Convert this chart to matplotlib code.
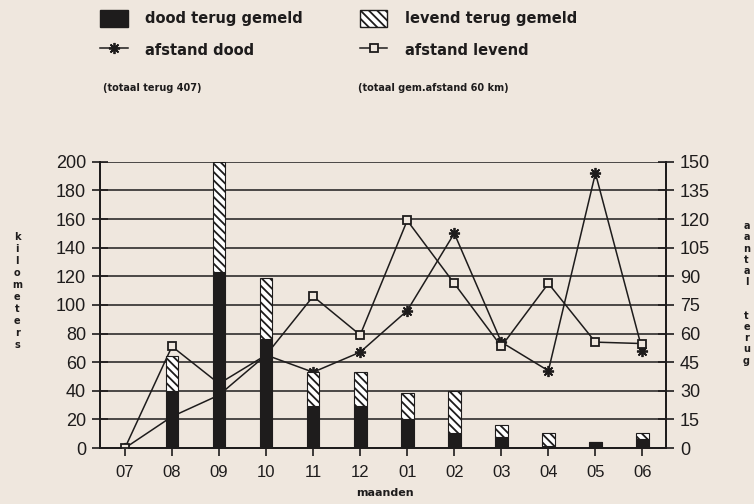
import numpy as np
import matplotlib.pyplot as plt
from matplotlib.lines import Line2D
from matplotlib.patches import Patch

# maanden
months = ['07', '08', '09', '10', '11', '12', '01', '02', '03', '04', '05', '06']
# aantal terug gemeld (rechter as)
dood_terug = [0, 30, 92, 57, 22, 22, 15, 8, 6, 1, 3, 5]
levend_terug = [0, 18, 58, 32, 18, 18, 14, 22, 6, 7, 0, 3]
# afstand in km (linker as)
afstand_dood = [0, 22, 37, 65, 53, 67, 96, 150, 74, 54, 192, 68]
afstand_levend = [0, 71, 45, 65, 106, 79, 159, 115, 71, 115, 74, 73]

left_ticks = list(range(0, 201, 20))
right_ticks = list(range(0, 151, 15))

bg = '#efe7de'
ink = '#1e1c1c'
plt.rcParams['font.family'] = ['Liberation Sans', 'DejaVu Sans']
plt.rcParams['hatch.linewidth'] = 1.3

fig = plt.figure(figsize=(7.54, 5.04), dpi=100, facecolor=bg)
ax = fig.add_axes([0.1326, 0.111, 0.7507, 0.568])
ax.set_facecolor(bg)
ax2 = ax.twinx()
ax.set_zorder(1)
ax2.set_zorder(2)
ax2.patch.set_visible(False)

x = np.arange(len(months))

# lijnen op linker as (achter de staven)
ax.plot(x, afstand_dood, color=ink, lw=1.1, marker=(8, 2, 0), ms=8, mew=1.3, zorder=3)
ax.plot(x, afstand_levend, color=ink, lw=1.1, marker='s', ms=6, mfc=bg, mec=ink, mew=1.3, zorder=3)

# gridlijnen
for t in left_ticks[1:]:
    ax.axhline(t, color=ink, lw=1.1, zorder=1)

# staven op rechter as
w = 0.27
ax2.bar(x, dood_terug, w, color=ink, edgecolor=ink, lw=0.8, zorder=4)
ax2.bar(x, levend_terug, w, bottom=dood_terug, color='white', edgecolor=ink,
        hatch='\\\\\\\\', lw=0.8, zorder=4)

ax.set_xlim(-0.53, 11.5)
ax.set_ylim(0, 200)
ax2.set_ylim(0, 150)
ax.set_yticks(left_ticks)
ax2.set_yticks(right_ticks)
ax.set_xticks(x)
ax.set_xticklabels(months)

for a in (ax, ax2):
    for s in a.spines.values():
        s.set_color(ink)
        s.set_linewidth(1.3)
    a.spines['top'].set_visible(False)
ax.tick_params(axis='y', direction='inout', length=12, width=1.2, colors=ink, labelsize=13, pad=4)
ax2.tick_params(axis='y', direction='inout', length=12, width=1.2, colors=ink, labelsize=13, pad=4)
ax.tick_params(axis='x', direction='out', length=6, width=1.2, colors=ink, labelsize=12, pad=6)

# as-titels (verticaal gestapelde letters)
fig.text(0.023, 0.422, '\n'.join('kilometers'), ha='center', va='center',
         fontsize=7, fontweight='bold', color=ink, family='DejaVu Sans', linespacing=1.25)
fig.text(0.990, 0.418, '\n'.join('aantal  terug'), ha='center', va='center',
         fontsize=7, fontweight='bold', color=ink, family='DejaVu Sans', linespacing=1.15)
fig.text(0.51, 0.022, 'maanden', ha='center', va='center', fontsize=8,
         fontweight='bold', color=ink, family='DejaVu Sans')

# legenda
handles = [
    Patch(facecolor=ink, edgecolor=ink),
    Line2D([], [], color=ink, lw=1.1, marker=(8, 2, 0), ms=8, mew=1.3),
    Patch(facecolor='white', edgecolor=ink, hatch='\\\\\\\\'),
    Line2D([], [], color=ink, lw=1.1, marker='s', ms=6, mfc=bg, mec=ink, mew=1.3),
]
labels = ['dood terug gemeld', 'afstand dood', 'levend terug gemeld', 'afstand levend']
leg = fig.legend(handles, labels, ncol=2, loc='upper left', bbox_to_anchor=(0.115, 1.007),
                 frameon=False, handlelength=1.9, handleheight=1.5, handletextpad=1.2,
                 columnspacing=3.9, labelspacing=0.95,
                 prop={'family': 'DejaVu Sans', 'size': 10.5, 'weight': 'bold'})
for t in leg.get_texts():
    t.set_color(ink)
fig.text(0.137, 0.825, '(totaal terug 407)', fontsize=7, fontweight='bold',
         color=ink, family='DejaVu Sans', va='center')
fig.text(0.475, 0.825, '(totaal gem.afstand 60 km)', fontsize=7, fontweight='bold',
         color=ink, family='DejaVu Sans', va='center')

fig.savefig('out.png', dpi=100, facecolor=bg)
